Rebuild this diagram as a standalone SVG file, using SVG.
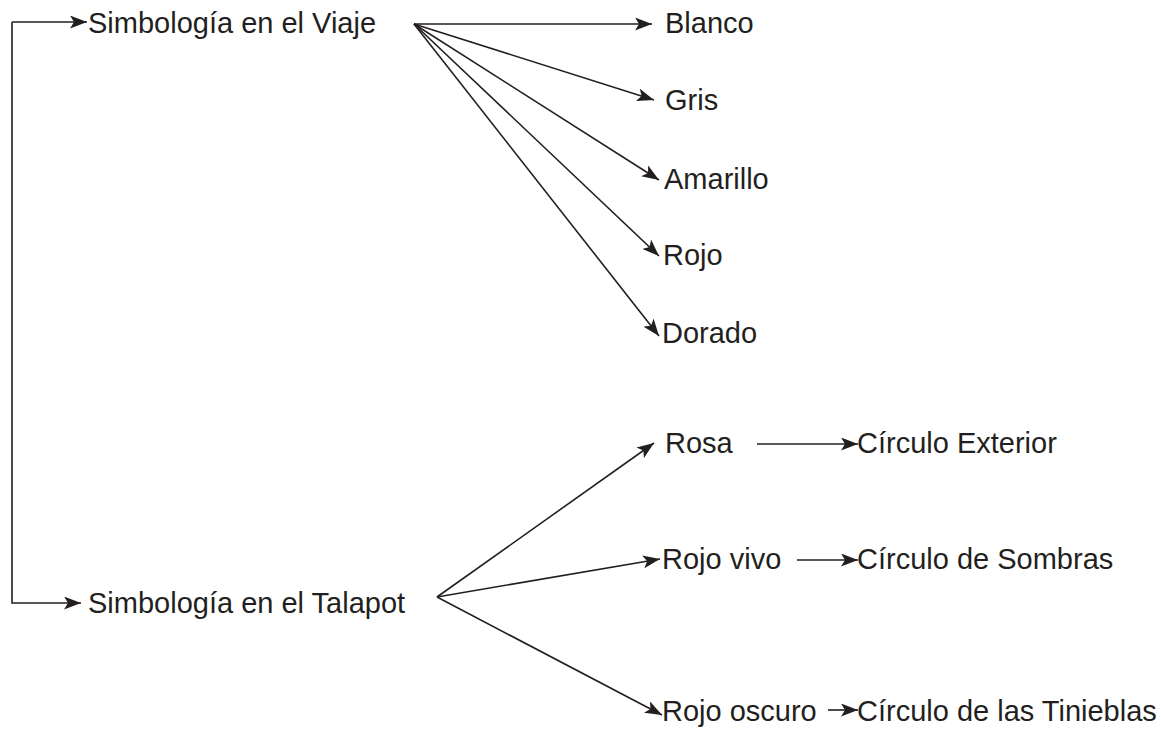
<svg xmlns="http://www.w3.org/2000/svg" width="1161" height="729" viewBox="0 0 1161 729">
<style>
text{font-family:"Liberation Sans",Arial,sans-serif;font-size:29px;fill:#231f20}
.c{fill:none;stroke:#231f20;stroke-width:1.6}
</style>
<defs>
<marker id="a" viewBox="0 0 17 13" refX="17" refY="6.5" markerWidth="17" markerHeight="13" markerUnits="userSpaceOnUse" orient="auto">
<path d="M0,0 L17,6.5 L0,13 L4,6.5 Z" fill="#231f20"/>
</marker>
</defs>
<rect width="1161" height="729" fill="#fff"/>
<g id="connectors">
<path class="c" d="M12,22 H87" marker-end="url(#a)"/>
<path class="c" d="M12,22 V603 H81" marker-end="url(#a)"/>
<path class="c" d="M414,24 L652,24" marker-end="url(#a)"/>
<path class="c" d="M414,24 L654,100" marker-end="url(#a)"/>
<path class="c" d="M414,24 L659,180" marker-end="url(#a)"/>
<path class="c" d="M414,24 L659,256" marker-end="url(#a)"/>
<path class="c" d="M414,24 L659,336" marker-end="url(#a)"/>
<path class="c" d="M437,597 L654,443" marker-end="url(#a)"/>
<path class="c" d="M437,597 L660,559" marker-end="url(#a)"/>
<path class="c" d="M437,597 L662,715" marker-end="url(#a)"/>
<path class="c" d="M757,444 H858" marker-end="url(#a)"/>
<path class="c" d="M797,560 H858" marker-end="url(#a)"/>
<path class="c" d="M828,710 H858" marker-end="url(#a)"/>
</g>
<g id="viaje"><text x="88" y="33">Simbología en el Viaje</text></g>
<g id="talapot"><text x="88" y="613">Simbología en el Talapot</text></g>
<g id="blanco"><text x="665" y="33">Blanco</text></g>
<g id="gris"><text x="665" y="110">Gris</text></g>
<g id="amarillo"><text x="664" y="189">Amarillo</text></g>
<g id="rojo"><text x="663" y="265">Rojo</text></g>
<g id="dorado"><text x="662" y="343">Dorado</text></g>
<g id="rosa"><text x="665" y="453">Rosa</text></g>
<g id="rojovivo"><text x="662" y="569">Rojo vivo</text></g>
<g id="rojooscuro"><text x="662" y="721">Rojo oscuro</text></g>
<g id="exterior"><text x="857" y="453">Círculo Exterior</text></g>
<g id="sombras"><text x="857" y="569">Círculo de Sombras</text></g>
<g id="tinieblas"><text x="857" y="721">Círculo de las Tinieblas</text></g>
</svg>
